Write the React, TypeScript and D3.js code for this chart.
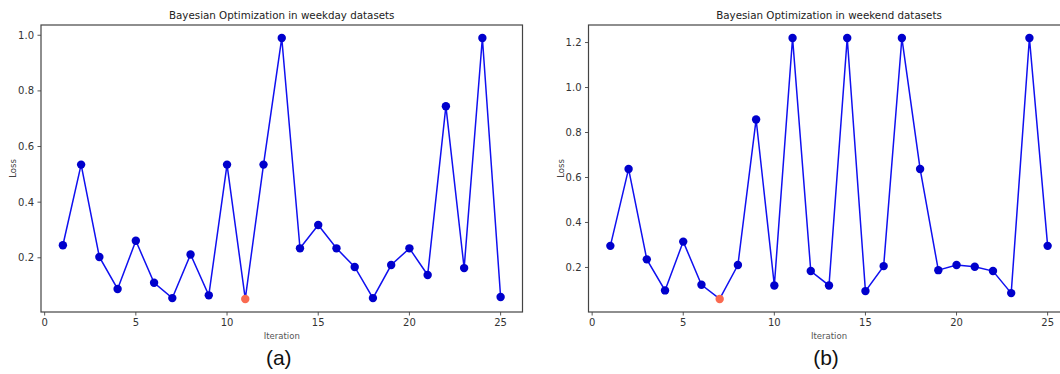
import React from "react";
import * as d3 from "d3";

const iterations = d3.range(1, 26);
const weekdayLoss = [0.245, 0.535, 0.203, 0.088, 0.261, 0.11, 0.055, 0.212, 0.065, 0.535, 0.052, 0.535, 0.99, 0.234, 0.318, 0.234, 0.167, 0.055, 0.174, 0.234, 0.138, 0.745, 0.163, 0.99, 0.059];
const weekendLoss = [0.296, 0.638, 0.236, 0.098, 0.315, 0.123, 0.06, 0.211, 0.858, 0.12, 1.22, 0.184, 0.12, 1.22, 0.095, 0.206, 1.22, 0.638, 0.188, 0.211, 0.203, 0.184, 0.086, 1.22, 0.296];
const xTicks = [0, 5, 10, 15, 20, 25];
const weekdayTicks = [0.2, 0.4, 0.6, 0.8, 1.0];
const weekendTicks = [0.2, 0.4, 0.6, 0.8, 1.0, 1.2];
const titles = ["Bayesian Optimization in weekday datasets", "Bayesian Optimization in weekend datasets"];
const captions = ["(a)", "(b)"];

const W = 1060;
const H = 374;
const TOP = 25;
const BOTTOM = 312;
const FONT = "DejaVu Sans, sans-serif";

function Panel({ x0, x1, values, yTicks, title, caption }: { x0: number; x1: number; values: number[]; yTicks: number[]; title: string; caption: string }) {
  const x = d3.scaleLinear().domain([-0.2, 26.2]).range([x0, x1]);
  const mn = d3.min(values)!;
  const mx = d3.max(values)!;
  const r = mx - mn;
  const y = d3.scaleLinear().domain([mn - 0.05 * r, mx + 0.05 * r]).range([BOTTOM, TOP]);
  const line = d3
    .line<number>()
    .x((_, i) => x(iterations[i]))
    .y((d) => y(d));
  const minIdx = d3.minIndex(values);
  const cx = (x0 + x1) / 2;
  return (
    <g>
      <path d={line(values)!} fill="none" stroke="#1010f0" strokeWidth={1.5} />
      {values.map((v, i) => (
        <circle key={i} cx={x(iterations[i])} cy={y(v)} r={4.2} fill={i === minIdx ? "#fa6a50" : "#0000cc"} />
      ))}
      <rect x={x0} y={TOP} width={x1 - x0} height={BOTTOM - TOP} fill="none" stroke="#444" strokeWidth={1.2} />
      {xTicks.map((t) => (
        <g key={t}>
          <line x1={x(t)} x2={x(t)} y1={BOTTOM} y2={BOTTOM + 3.5} stroke="#444" strokeWidth={0.9} />
          <text x={x(t)} y={BOTTOM + 14} textAnchor="middle" fontSize={10} fontFamily={FONT} fill="#333">
            {t}
          </text>
        </g>
      ))}
      {yTicks.map((t) => (
        <g key={t}>
          <line x1={x0 - 3.5} x2={x0} y1={y(t)} y2={y(t)} stroke="#444" strokeWidth={0.9} />
          <text x={x0 - 7} y={y(t)} dy="0.35em" textAnchor="end" fontSize={10} fontFamily={FONT} fill="#333">
            {t.toFixed(1)}
          </text>
        </g>
      ))}
      <text x={cx} y={19} textAnchor="middle" fontSize={10.3} fontFamily={FONT} fill="#222">
        {title}
      </text>
      <text x={cx} y={339} textAnchor="middle" fontSize={8.5} fontFamily={FONT} fill="#555">
        Iteration
      </text>
      <text transform={`translate(${x0 - 25},${(TOP + BOTTOM) / 2}) rotate(-90)`} textAnchor="middle" fontSize={8.5} fontFamily={FONT} fill="#444">
        Loss
      </text>
      <text x={cx - 3} y={365} textAnchor="middle" fontSize={21} fontFamily="Liberation Sans, Arial, sans-serif" fill="#111">
        {caption}
      </text>
    </g>
  );
}

export default function App() {
  return (
    <svg width={W} height={H} style={{ position: "absolute", left: 0, top: 0, background: "#fff" }}>
      <rect width={W} height={H} fill="#fff" />
      <Panel x0={41} x1={522.5} values={weekdayLoss} yTicks={weekdayTicks} title={titles[0]} caption={captions[0]} />
      <Panel x0={588.5} x1={1069.5} values={weekendLoss} yTicks={weekendTicks} title={titles[1]} caption={captions[1]} />
    </svg>
  );
}
